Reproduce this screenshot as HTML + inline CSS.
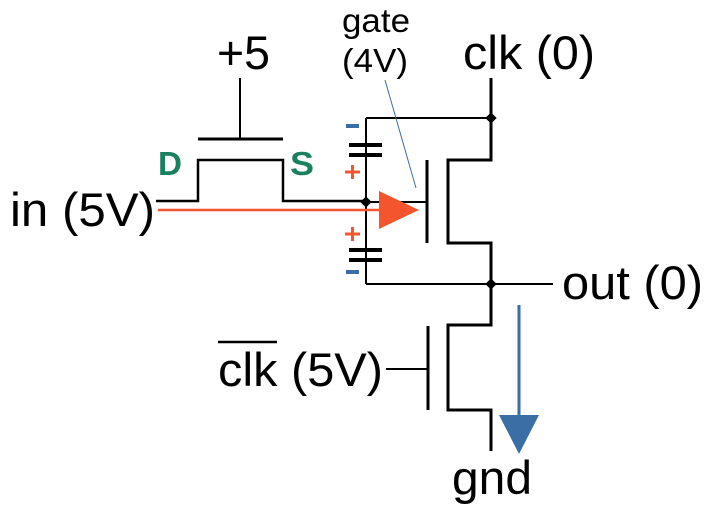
<!DOCTYPE html>
<html><head><style>html,body{margin:0;padding:0;background:#fff}svg{display:block}</style></head>
<body>
<svg width="712" height="506" viewBox="0 0 712 506" xmlns="http://www.w3.org/2000/svg" font-family="Liberation Sans, sans-serif">
<g stroke="#000" stroke-width="2" fill="none">
<line x1="240" y1="78" x2="240" y2="139"/>
<line x1="198" y1="139" x2="283" y2="139" stroke-width="3"/>
<polyline points="156,201 198,201 198,160 283,160 283,201 366,201" stroke-width="2.5"/>
<line x1="366" y1="118" x2="366" y2="284"/>
<line x1="366" y1="118" x2="491" y2="118"/>
<line x1="366" y1="284" x2="553" y2="284"/>
<line x1="366" y1="202" x2="427" y2="202"/>
<line x1="349" y1="145" x2="382" y2="145" stroke-width="4"/>
<line x1="349" y1="155" x2="382" y2="155" stroke-width="4"/>
<line x1="349" y1="250" x2="382" y2="250" stroke-width="4"/>
<line x1="349" y1="260" x2="382" y2="260" stroke-width="4"/>
<line x1="427" y1="160" x2="427" y2="243" stroke-width="3"/>
<polyline points="491,78 491,160 448,160 448,243 491,243 491,284" stroke-width="3"/>
<line x1="491" y1="78" x2="491" y2="160"/>
<polyline points="491,284 491,325 448,325 448,410 491,410 491,451" stroke-width="3"/>
<line x1="428" y1="326" x2="428" y2="410" stroke-width="3"/>
<line x1="386" y1="369" x2="428" y2="369"/>
</g>
<g fill="#000">
<rect x="362" y="198" width="8" height="8" transform="rotate(45 366 202)"/>
<rect x="487" y="114" width="8" height="8" transform="rotate(45 491 118)"/>
<rect x="487" y="280" width="8" height="8" transform="rotate(45 491 284)"/>
</g>
<line x1="158" y1="210" x2="380" y2="210" stroke="#f4552e" stroke-width="2.5"/>
<polygon points="379,191 419,210 379,229" fill="#f4552e"/>
<line x1="385" y1="80" x2="416" y2="188" stroke="#3a6ea5" stroke-width="1"/>
<line x1="519" y1="305" x2="519" y2="418" stroke="#3a6ea5" stroke-width="3"/>
<polygon points="499,415 539,415 519,454" fill="#3a6ea5"/>
<!-- signs -->
<rect x="346" y="124" width="13" height="4" fill="#3a6ea5"/>
<rect x="346" y="270" width="13" height="4" fill="#3a6ea5"/>
<g stroke="#f4552e" stroke-width="3">
<line x1="345" y1="172" x2="360" y2="172"/><line x1="352.5" y1="165" x2="352.5" y2="179"/>
<line x1="345" y1="234" x2="360" y2="234"/><line x1="352.5" y1="227" x2="352.5" y2="241"/>
</g>
<g fill="#1a8060" font-size="33" font-weight="bold">
<text x="158" y="175" textLength="24" lengthAdjust="spacingAndGlyphs">D</text>
<text x="290" y="175" textLength="24" lengthAdjust="spacingAndGlyphs">S</text>
</g>
<g fill="#000" font-size="47">
<text x="217" y="69" textLength="53" lengthAdjust="spacingAndGlyphs">+5</text>
<text x="463" y="69" textLength="132" lengthAdjust="spacingAndGlyphs">clk (0)</text>
<text x="10" y="226" textLength="145" lengthAdjust="spacingAndGlyphs">in (5V)</text>
<text x="562" y="299" textLength="141" lengthAdjust="spacingAndGlyphs">out (0)</text>
<text x="218" y="386" textLength="165" lengthAdjust="spacingAndGlyphs">clk (5V)</text>
<text x="452" y="494" textLength="80" lengthAdjust="spacingAndGlyphs">gnd</text>
</g>
<line x1="218" y1="342" x2="277" y2="342" stroke="#000" stroke-width="2.5"/>
<g fill="#000" font-size="33">
<text x="342" y="32" textLength="68" lengthAdjust="spacingAndGlyphs">gate</text>
<text x="342" y="72" textLength="66" lengthAdjust="spacingAndGlyphs">(4V)</text>
</g>
</svg>
</body></html>
